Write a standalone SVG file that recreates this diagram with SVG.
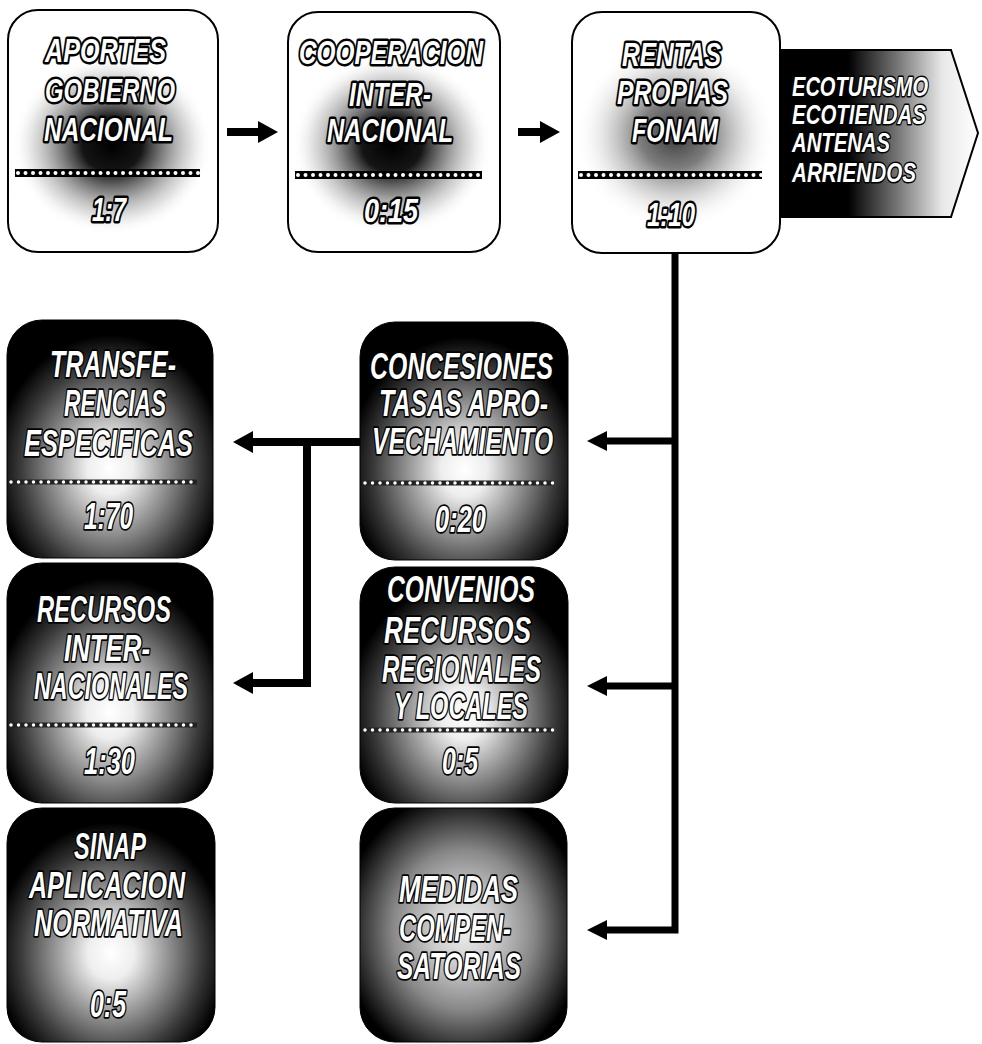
<svg xmlns="http://www.w3.org/2000/svg" width="982" height="1044" viewBox="0 0 982 1044">
<style>
text{font-family:"Liberation Sans Narrow","Liberation Sans",Arial,sans-serif;font-weight:bold;font-style:italic;fill:#fff;stroke:#000;stroke-linejoin:round;paint-order:stroke}
.t{font-size:34px;stroke-width:5}
.d{font-size:36px;stroke-width:3.5}
.p{font-size:28px;stroke-width:3}
.box{fill:#fff;stroke:#000;stroke-width:2}
.dbox{stroke:#000;stroke-width:1}
.bar{stroke:#000;stroke-width:8}
.dots{stroke:#fff;stroke-width:4;stroke-linecap:round;stroke-dasharray:0 7.5}
.dbar{stroke:#222;stroke-width:5}
.dd{stroke:#fff;stroke-width:3.5;stroke-linecap:round;stroke-dasharray:0 7.5}
.con{fill:none;stroke:#000;stroke-width:7;stroke-linejoin:miter}
.con2{fill:none;stroke:#000;stroke-width:8;stroke-linejoin:miter}
</style>
<defs>
<radialGradient id="blot" cx="0.5" cy="0.5" r="0.5">
<stop offset="0" stop-color="#000" stop-opacity="1"/>
<stop offset="0.3" stop-color="#000" stop-opacity="0.92"/>
<stop offset="0.55" stop-color="#444" stop-opacity="0.6"/>
<stop offset="0.8" stop-color="#888" stop-opacity="0.25"/>
<stop offset="1" stop-color="#fff" stop-opacity="0"/>
</radialGradient>
<radialGradient id="blot2" cx="0.5" cy="0.5" r="0.5">
<stop offset="0" stop-color="#222" stop-opacity="0.9"/>
<stop offset="0.35" stop-color="#444" stop-opacity="0.7"/>
<stop offset="0.65" stop-color="#888" stop-opacity="0.35"/>
<stop offset="1" stop-color="#fff" stop-opacity="0"/>
</radialGradient>
<radialGradient id="darkA" cx="0.5" cy="0.62" r="0.62" fx="0.5" fy="0.62">
<stop offset="0" stop-color="#fff"/>
<stop offset="0.18" stop-color="#eee"/>
<stop offset="0.42" stop-color="#9a9a9a"/>
<stop offset="0.7" stop-color="#3a3a3a"/>
<stop offset="0.9" stop-color="#000"/>
</radialGradient>
<radialGradient id="darkB" cx="0.5" cy="0.52" r="0.62" fx="0.5" fy="0.52">
<stop offset="0" stop-color="#eee"/>
<stop offset="0.25" stop-color="#ccc"/>
<stop offset="0.55" stop-color="#888"/>
<stop offset="0.8" stop-color="#333"/>
<stop offset="0.95" stop-color="#000"/>
</radialGradient>
<linearGradient id="pent" x1="0" y1="0" x2="1" y2="0">
<stop offset="0" stop-color="#000"/>
<stop offset="0.35" stop-color="#000"/>
<stop offset="0.6" stop-color="#777"/>
<stop offset="0.82" stop-color="#e8e8e8"/>
<stop offset="1" stop-color="#fff"/>
</linearGradient>
<marker id="ah" markerUnits="userSpaceOnUse" viewBox="0 0 20 22" markerWidth="20" markerHeight="22" refX="2" refY="11" orient="auto">
<path d="M0,0 L20,11 L0,22 z" fill="#000"/>
</marker>
<marker id="ahs" markerUnits="userSpaceOnUse" viewBox="0 0 20 20" markerWidth="20" markerHeight="20" refX="2" refY="10" orient="auto">
<path d="M0,0 L20,10 L0,20 z" fill="#000"/>
</marker>
</defs>
<rect width="982" height="1044" fill="#fff"/>

<g id="connectors">
<path class="con2" d="M227,132 H260" marker-end="url(#ah)"/>
<path class="con2" d="M518,132 H542" marker-end="url(#ah)"/>
<path class="con" d="M675,253 V930 H605" marker-end="url(#ahs)"/>
<path class="con" d="M678,441 H605" marker-end="url(#ahs)"/>
<path class="con" d="M678,686 H605" marker-end="url(#ahs)"/>
<path class="con2" d="M362,442 H251" marker-end="url(#ah)"/>
<path class="con2" d="M307,442 V683 H251" marker-end="url(#ah)"/>
</g>

<g id="n-ecoturismo">
<path d="M778,50 H951 L978,133 L951,217 H778 Z" fill="url(#pent)" stroke="#000" stroke-width="2"/>
<text class="p" x="792" y="96" textLength="136" lengthAdjust="spacingAndGlyphs">ECOTURISMO</text>
<text class="p" x="792" y="124" textLength="134" lengthAdjust="spacingAndGlyphs">ECOTIENDAS</text>
<text class="p" x="792" y="152" textLength="98" lengthAdjust="spacingAndGlyphs">ANTENAS</text>
<text class="p" x="792" y="182" textLength="124" lengthAdjust="spacingAndGlyphs">ARRIENDOS</text>
</g>

<g id="n-aportes">
<rect class="box" x="8" y="10" width="210" height="242" rx="30"/>
<ellipse cx="112" cy="145" rx="100" ry="90" fill="url(#blot)"/>
<line class="bar" x1="15" y1="173" x2="200" y2="173"/>
<line class="dots" x1="18" y1="173" x2="200" y2="173"/>
<text class="t" x="45" y="62" textLength="121" lengthAdjust="spacingAndGlyphs">APORTES</text>
<text class="t" x="45" y="102" textLength="130" lengthAdjust="spacingAndGlyphs">GOBIERNO</text>
<text class="t" x="44" y="141" textLength="129" lengthAdjust="spacingAndGlyphs">NACIONAL</text>
<text class="t" x="92" y="221" textLength="34" lengthAdjust="spacingAndGlyphs">1:7</text>
</g>

<g id="n-cooperacion">
<rect class="box" x="288" y="12" width="212" height="240" rx="30"/>
<ellipse cx="392" cy="145" rx="100" ry="90" fill="url(#blot)"/>
<line class="bar" x1="295" y1="175" x2="482" y2="175"/>
<line class="dots" x1="298" y1="175" x2="482" y2="175"/>
<text class="t" x="299" y="64" textLength="184" lengthAdjust="spacingAndGlyphs">COOPERACION</text>
<text class="t" x="349" y="106" textLength="82" lengthAdjust="spacingAndGlyphs">INTER-</text>
<text class="t" x="327" y="142" textLength="126" lengthAdjust="spacingAndGlyphs">NACIONAL</text>
<text class="t" x="364" y="222" textLength="54" lengthAdjust="spacingAndGlyphs">0:15</text>
</g>

<g id="n-rentas">
<rect class="box" x="572" y="12" width="208" height="241" rx="30"/>
<ellipse cx="675" cy="135" rx="100" ry="95" fill="url(#blot2)"/>
<line class="bar" x1="578" y1="175" x2="762" y2="175"/>
<line class="dots" x1="581" y1="175" x2="762" y2="175"/>
<text class="t" x="622" y="66" textLength="99" lengthAdjust="spacingAndGlyphs">RENTAS</text>
<text class="t" x="617" y="104" textLength="111" lengthAdjust="spacingAndGlyphs">PROPIAS</text>
<text class="t" x="632" y="142" textLength="86" lengthAdjust="spacingAndGlyphs">FONAM</text>
<text class="t" x="647" y="226" textLength="48" lengthAdjust="spacingAndGlyphs">1:10</text>
</g>

<g id="n-transferencias">
<rect class="dbox" x="7" y="320" width="206" height="238" rx="35" fill="url(#darkA)"/>
<line class="dbar" x1="9" y1="482" x2="197" y2="482"/>
<line class="dd" x1="11" y1="482" x2="197" y2="482"/>
<text class="d" x="50" y="377" textLength="126" lengthAdjust="spacingAndGlyphs">TRANSFE-</text>
<text class="d" x="64" y="416" textLength="102" lengthAdjust="spacingAndGlyphs">RENCIAS</text>
<text class="d" x="24" y="456" textLength="169" lengthAdjust="spacingAndGlyphs">ESPECIFICAS</text>
<text class="d" x="84" y="529" textLength="49" lengthAdjust="spacingAndGlyphs">1:70</text>
</g>

<g id="n-recursos-int">
<rect class="dbox" x="7" y="563" width="206" height="240" rx="35" fill="url(#darkA)"/>
<line class="dbar" x1="9" y1="725" x2="197" y2="725"/>
<line class="dd" x1="11" y1="725" x2="197" y2="725"/>
<text class="d" x="37" y="622" textLength="134" lengthAdjust="spacingAndGlyphs">RECURSOS</text>
<text class="d" x="64" y="661" textLength="86" lengthAdjust="spacingAndGlyphs">INTER-</text>
<text class="d" x="34" y="699" textLength="154" lengthAdjust="spacingAndGlyphs">NACIONALES</text>
<text class="d" x="84" y="774" textLength="51" lengthAdjust="spacingAndGlyphs">1:30</text>
</g>

<g id="n-sinap">
<rect class="dbox" x="7" y="808" width="208" height="234" rx="35" fill="url(#darkA)"/>
<text class="d" x="74" y="859" textLength="72" lengthAdjust="spacingAndGlyphs">SINAP</text>
<text class="d" x="29" y="898" textLength="156" lengthAdjust="spacingAndGlyphs">APLICACION</text>
<text class="d" x="34" y="936" textLength="149" lengthAdjust="spacingAndGlyphs">NORMATIVA</text>
<text class="d" x="90" y="1017" textLength="36" lengthAdjust="spacingAndGlyphs">0:5</text>
</g>

<g id="n-concesiones">
<rect class="dbox" x="360" y="322" width="208" height="238" rx="35" fill="url(#darkA)"/>
<line class="dbar" x1="363" y1="483" x2="553" y2="483"/>
<line class="dd" x1="365" y1="483" x2="553" y2="483"/>
<text class="d" x="370" y="379" textLength="183" lengthAdjust="spacingAndGlyphs">CONCESIONES</text>
<text class="d" x="379" y="416" textLength="169" lengthAdjust="spacingAndGlyphs">TASAS APRO-</text>
<text class="d" x="372" y="454" textLength="181" lengthAdjust="spacingAndGlyphs">VECHAMIENTO</text>
<text class="d" x="435" y="532" textLength="51" lengthAdjust="spacingAndGlyphs">0:20</text>
</g>

<g id="n-convenios">
<rect class="dbox" x="360" y="567" width="208" height="236" rx="35" fill="url(#darkA)"/>
<line class="dbar" x1="363" y1="730" x2="553" y2="730"/>
<line class="dd" x1="365" y1="730" x2="553" y2="730"/>
<text class="d" x="387" y="602" textLength="148" lengthAdjust="spacingAndGlyphs">CONVENIOS</text>
<text class="d" x="384" y="643" textLength="147" lengthAdjust="spacingAndGlyphs">RECURSOS</text>
<text class="d" x="382" y="682" textLength="159" lengthAdjust="spacingAndGlyphs">REGIONALES</text>
<text class="d" x="394" y="719" textLength="134" lengthAdjust="spacingAndGlyphs">Y LOCALES</text>
<text class="d" x="442" y="774" textLength="36" lengthAdjust="spacingAndGlyphs">0:5</text>
</g>

<g id="n-medidas">
<rect class="dbox" x="360" y="808" width="207" height="234" rx="35" fill="url(#darkB)"/>
<text class="d" x="399" y="902" textLength="119" lengthAdjust="spacingAndGlyphs">MEDIDAS</text>
<text class="d" x="399" y="941" textLength="112" lengthAdjust="spacingAndGlyphs">COMPEN-</text>
<text class="d" x="397" y="979" textLength="124" lengthAdjust="spacingAndGlyphs">SATORIAS</text>
</g>
</svg>
